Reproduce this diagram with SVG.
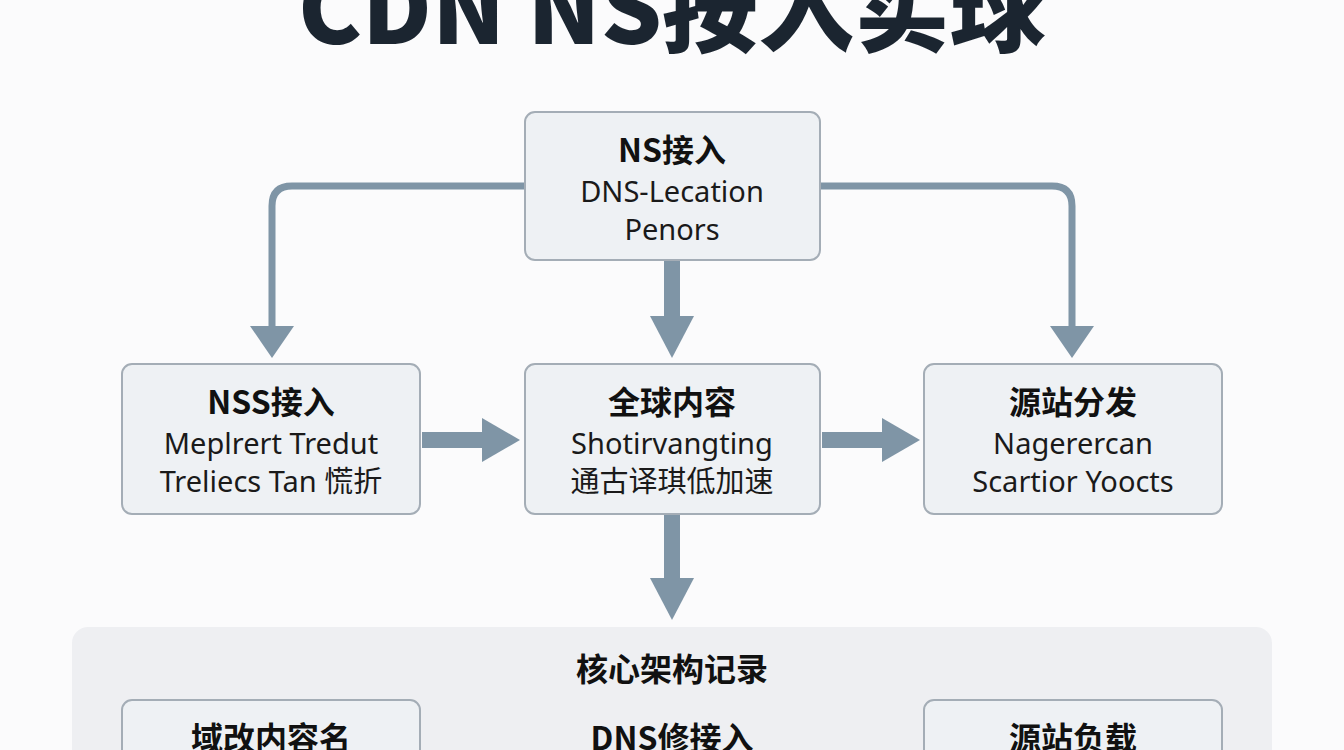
<svg xmlns="http://www.w3.org/2000/svg" width="1344" height="750" viewBox="0 0 1344 750">
<defs>
<style>
.b{fill:#eef1f4;stroke:#a4adb6;stroke-width:2}
.t{font-family:"Noto Sans CJK SC","Noto Sans",sans-serif;font-weight:700;font-size:32px;fill:#111;text-anchor:middle}
.s{font-family:"Noto Sans","Noto Sans CJK SC",sans-serif;font-size:29px;fill:#1a1a1a;text-anchor:middle}
.c{fill:none;stroke:#7f95a6;stroke-width:7}
.h{fill:#7f95a6}
</style>
</defs>
<rect width="1344" height="750" fill="#fbfbfc"/>
<text x="672" y="44" font-family="'Noto Sans CJK SC','Noto Sans',sans-serif" font-weight="900" font-size="96" fill="#1b2530" text-anchor="middle">CDN NS按入实球</text>
<g id="connectors">
<path class="c" d="M525 186 H292 Q272 186 272 206 V330"/>
<polygon class="h" points="250,326 294,326 272,358"/>
<path class="c" d="M820 186 H1052 Q1072 186 1072 206 V330"/>
<polygon class="h" points="1050,326 1094,326 1072,358"/>
<rect class="h" x="664" y="260" width="16" height="58"/>
<polygon class="h" points="650,316 694,316 672,358"/>
<rect class="h" x="422" y="432" width="62" height="16"/>
<polygon class="h" points="482,418 482,462 520,440"/>
<rect class="h" x="822" y="432" width="62" height="16"/>
<polygon class="h" points="882,418 882,462 920,440"/>
<rect class="h" x="664" y="514" width="16" height="66"/>
<polygon class="h" points="650,578 694,578 672,620"/>
</g>
<g id="n-top"><rect class="b" x="525" y="112" width="295" height="148" rx="10"/>
<text class="t" x="672" y="162">NS接入</text><text class="s" x="672" y="202">DNS-Lecation</text><text class="s" x="672" y="240">Penors</text></g>
<g id="n-left"><rect class="b" x="122" y="364" width="298" height="150" rx="10"/>
<text class="t" x="271" y="414">NSS接入</text><text class="s" x="271" y="454">Meplrert Tredut</text><text class="s" x="271" y="492">Treliecs Tan 慌折</text></g>
<g id="n-mid"><rect class="b" x="525" y="364" width="295" height="150" rx="10"/>
<text class="t" x="672" y="414">全球内容</text><text class="s" x="672" y="454">Shotirvangting</text><text class="s" x="672" y="492">通古译琪低加速</text></g>
<g id="n-right"><rect class="b" x="924" y="364" width="298" height="150" rx="10"/>
<text class="t" x="1073" y="414">源站分发</text><text class="s" x="1073" y="454">Nagerercan</text><text class="s" x="1073" y="492">Scartior Yoocts</text></g>
<g id="panel"><rect x="72" y="627" width="1200" height="160" rx="16" fill="#eeeff2"/>
<text class="t" x="672" y="681">核心架构记录</text></g>
<g id="n-b1"><rect class="b" x="122" y="700" width="298" height="90" rx="10"/><text class="t" x="271" y="750">域改内容名</text></g>
<g id="n-b2"><text class="t" x="672" y="750">DNS修接入</text></g>
<g id="n-b3"><rect class="b" x="924" y="700" width="298" height="90" rx="10"/><text class="t" x="1073" y="750">源站负载</text></g>
</svg>
